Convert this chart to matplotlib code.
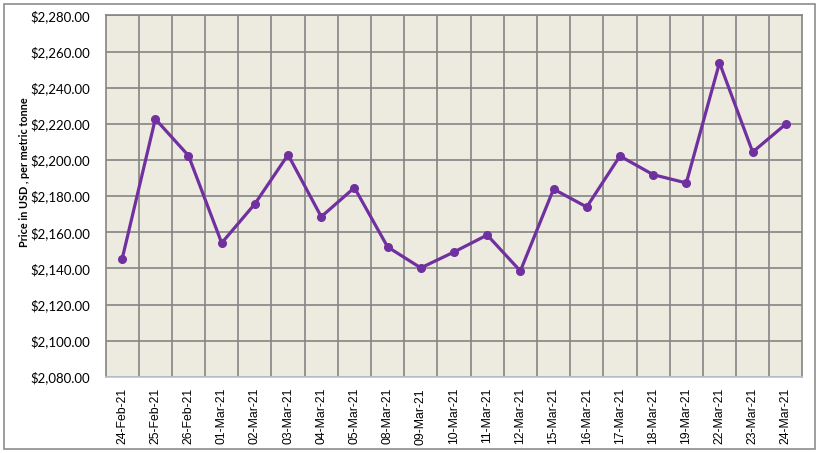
import matplotlib.pyplot as plt
from matplotlib.patches import Rectangle
from matplotlib.ticker import FuncFormatter, MultipleLocator

dates = ["24-Feb-21", "25-Feb-21", "26-Feb-21", "01-Mar-21", "02-Mar-21", "03-Mar-21",
         "04-Mar-21", "05-Mar-21", "08-Mar-21", "09-Mar-21", "10-Mar-21", "11-Mar-21",
         "12-Mar-21", "15-Mar-21", "16-Mar-21", "17-Mar-21", "18-Mar-21", "19-Mar-21",
         "22-Mar-21", "23-Mar-21", "24-Mar-21"]
prices = [2145.2, 2222.7, 2202.4, 2154.1, 2175.7, 2202.9, 2168.6, 2184.7, 2151.9, 2140.3,
          2149.1, 2158.5, 2138.6, 2183.9, 2174.0, 2202.2, 2191.9, 2187.3, 2253.8, 2204.4,
          2219.9]

fig = plt.figure(figsize=(8.18, 4.53), dpi=100)
ax = fig.add_axes([0.129, 0.168, 0.852, 0.798])

# frame around the whole chart
fig.patches.append(Rectangle((0.005, 0.009), 0.991, 0.982, transform=fig.transFigure,
                             fill=False, edgecolor='#8c8c8c', linewidth=1.2))

x = list(range(len(dates)))
ax.plot(x, prices, color='#7030A0', linewidth=2.3, marker='o', markersize=5.5, zorder=3)

ax.set_facecolor('#EDEAE0')
ax.set_xlim(-0.5, len(dates) - 0.5)
ax.set_ylim(2080, 2280)
ax.yaxis.set_major_locator(MultipleLocator(20))
ax.yaxis.set_major_formatter(FuncFormatter(lambda v, p: f"${v:,.2f}"))

ax.set_xticks(x)
ax.set_xticklabels(dates, rotation=90, fontsize=8.8, family='Liberation Sans')
ax.set_xticks([i + 0.5 for i in x[:-1]], minor=True)
ax.grid(which='minor', axis='x', color='#858585', linewidth=1.2)
ax.grid(which='major', axis='y', color='#858585', linewidth=1.2)
ax.set_axisbelow(True)
ax.tick_params(axis='both', which='both', length=0)
ax.tick_params(axis='y', labelsize=9.5, pad=11)
ax.tick_params(axis='x', pad=8)
for lbl in ax.get_yticklabels():
    lbl.set_family('Lato')

ax.set_ylabel("Price in USD , per metric tonne", fontsize=7.8, fontweight='bold',
              family='Lato')
ax.yaxis.set_label_coords(-0.108, 0.567)

for s in ['left', 'top', 'right']:
    ax.spines[s].set_color('#858585')
    ax.spines[s].set_linewidth(1.2)
ax.spines['bottom'].set_color('#B9C4D6')
ax.spines['bottom'].set_linewidth(1.2)

plt.savefig("out.png", dpi=100)
